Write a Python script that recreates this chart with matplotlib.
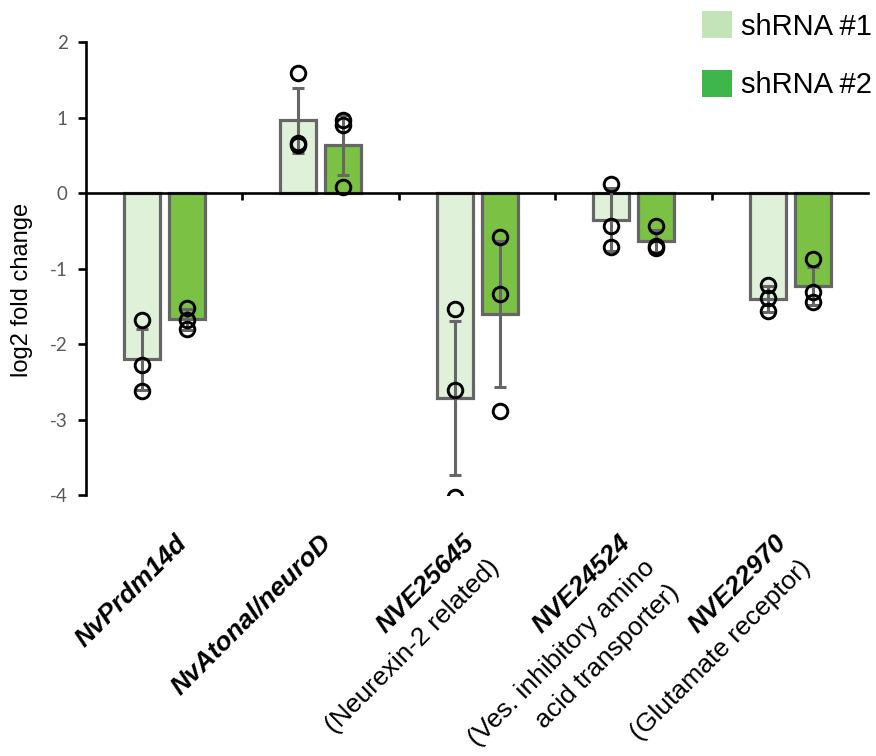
import numpy as np
import matplotlib.pyplot as plt
from matplotlib.patches import Patch
from matplotlib import transforms

plt.rcParams['axes.unicode_minus'] = False

# categories and series
genes = ['NvPrdm14d', 'NvAtonal/neuroD', 'NVE25645', 'NVE24524', 'NVE22970']
gene_notes = [[], [], ['(Neurexin-2 related)'],
              ['(Ves. inhibitory amino', 'acid transporter)'],
              ['(Glutamate receptor)']]
series = ['shRNA #1', 'shRNA #2']

# bar heights (mean log2 fold change) and error (sd)
mean_sh1 = [-2.20, 0.97, -2.71, -0.35, -1.40]
mean_sh2 = [-1.67, 0.64, -1.60, -0.63, -1.23]
sd_sh1 = [0.40, 0.43, 1.02, 0.42, 0.17]
sd_sh2 = [0.14, 0.40, 0.97, 0.15, 0.25]

# single replicates
pts_sh1 = [[-1.68, -2.28, -2.62], [1.59, 0.66, 0.64], [-1.53, -2.60, -4.02],
           [0.12, -0.44, -0.71], [-1.22, -1.39, -1.56]]
pts_sh2 = [[-1.52, -1.68, -1.80], [0.97, 0.90, 0.08], [-0.58, -1.34, -2.89],
           [-0.44, -0.70, -0.72], [-0.87, -1.31, -1.44]]

bar_colors = ['#dff1d8', '#7bc143']
legend_colors = ['#c3e4b8', '#3eb64a']
edge = '#666666'

fig = plt.figure(figsize=(8.76, 7.56), dpi=100)
ax = fig.add_axes([0.098, 0.345, 0.893, 0.599])

x = np.arange(len(genes))
w = 0.23
offsets = [-0.143, 0.145]

for dx, means, sds, pts, fc in zip(offsets, [mean_sh1, mean_sh2], [sd_sh1, sd_sh2],
                                   [pts_sh1, pts_sh2], bar_colors):
    ax.bar(x + dx, means, w, color=fc, edgecolor=edge, linewidth=2.3, zorder=2)
    ax.errorbar(x + dx, means, yerr=sds, fmt='none', ecolor=edge, elinewidth=2.2,
                capsize=4, capthick=2.2, zorder=3)
    for xi, p in zip(x + dx, pts):
        ax.plot([xi] * len(p), p, 'o', mfc='none', mec='black', ms=10.5, mew=2.1,
                zorder=4)

ax.set_xlim(-0.5, len(genes) - 0.5)
ax.set_ylim(-4, 2)
ax.set_yticks(np.arange(-4, 3, 1))
ax.set_xticks(x[:-1] + 0.5)
ax.set_xticklabels([])
for s in ['top', 'right']:
    ax.spines[s].set_visible(False)
ax.spines['bottom'].set_position(('data', 0))
ax.spines['bottom'].set_linewidth(1.9)
ax.spines['left'].set_linewidth(1.9)
ax.tick_params(axis='y', direction='out', length=6, width=1.9,
               labelcolor='#595959', labelsize=13.5, pad=7)
ax.tick_params(axis='x', direction='out', length=5, width=1.9)
for t in ax.get_yticklabels():
    t.set_fontfamily('Lato')

ax.set_ylabel('log2 fold change', fontsize=17, family='Liberation Sans')
ax.yaxis.set_label_coords(-0.068, 0.453)

# gene labels, rotated, first line bold italic
label_shift = [0.065, -0.01, -0.095, -0.1, -0.1]
trans = transforms.blended_transform_factory(ax.transData, ax.transAxes)
for i, g in enumerate(genes):
    xp = x[i] + label_shift[i]
    ax.text(xp, -0.078, g, transform=trans, rotation=45, rotation_mode='anchor',
            ha='right', va='top', fontsize=19, family='Liberation Sans',
            weight='bold', style='italic')
    for k, note in enumerate(gene_notes[i], start=1):
        tr = transforms.offset_copy(trans, fig=fig, x=17.8 * k, y=-17.8 * k,
                                    units='points')
        ax.text(xp, -0.078, note, transform=tr, rotation=45, rotation_mode='anchor',
                ha='right', va='top', fontsize=19, family='Liberation Sans')

handles = [Patch(facecolor=c, edgecolor='none') for c in legend_colors]
fig.legend(handles, series, loc='upper left', bbox_to_anchor=(0.801, 0.985),
           frameon=False, handlelength=1.05, handleheight=1.05,
           handletextpad=0.3, labelspacing=1.0, borderpad=0, borderaxespad=0,
           prop={'family': 'Liberation Sans', 'size': 21})

fig.savefig('out.png', dpi=100)
